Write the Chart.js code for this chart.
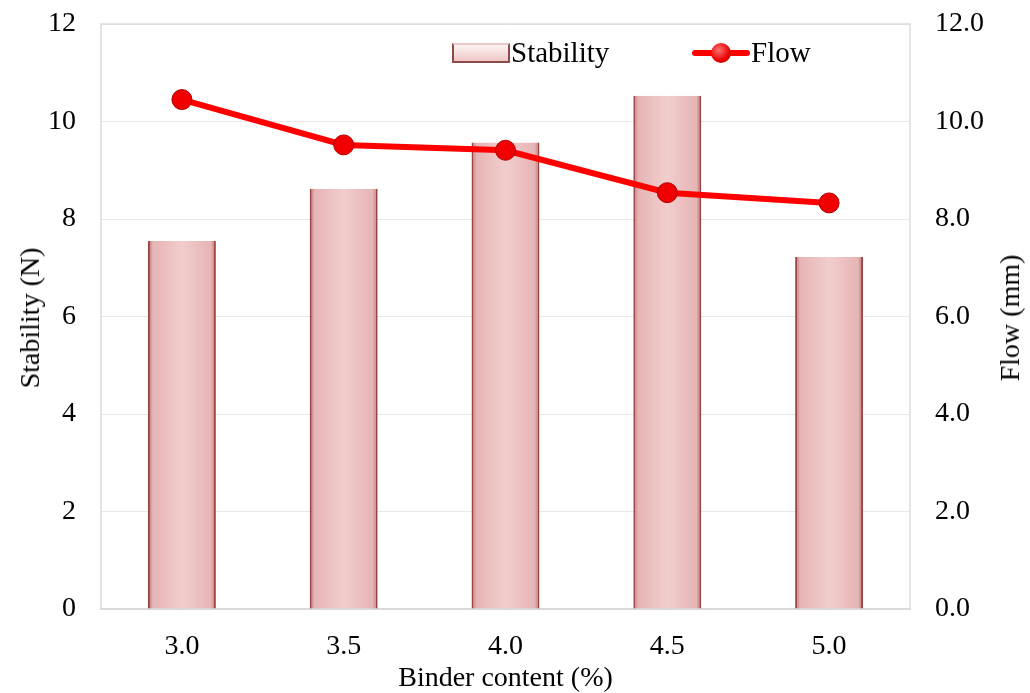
<!DOCTYPE html>
<html>
<head>
<meta charset="utf-8">
<script src="https://cdn.jsdelivr.net/npm/chart.js@4.4.1/dist/chart.umd.min.js"></script>
<style>
  body { margin: 0; background: #fff; }
  #wrap { position: relative; width: 1030px; height: 693px; }
  .legend { position: absolute; top: 36px; font-family: "Liberation Serif", serif; font-size: 29px; color: #000; display: flex; align-items: center; }
  .swatch-bar { width: 58px; height: 20px; background: linear-gradient(#fdf3f3, #f0c6c6); border: 2px solid #8f4a4a; border-top-color: #e8c8c8; box-sizing: border-box; margin-right: 1px; }
  .swatch-line { position: relative; width: 58px; height: 22px; margin-right: 1px; }
  .swatch-line::before { content: ""; position: absolute; left: 0; right: 0; top: 8px; height: 6px; background: #ff0000; border-radius: 3px; }
  .swatch-line::after { content: ""; position: absolute; left: 19px; top: 1px; width: 20px; height: 20px; border-radius: 50%; background: radial-gradient(circle at 40% 35%, #ff7070, #e80000 60%, #a00000); }
  .vtitle { position: absolute; top: 318px; transform: translate(-50%, -50%) rotate(-90deg); font-family: "Liberation Serif", serif; font-size: 28px; white-space: nowrap; color: #000; }
</style>
</head>
<body>
<div id="wrap">
  <canvas id="chart"></canvas>
  <div class="legend" style="left:452px;"><span class="swatch-bar"></span>Stability</div>
  <div class="legend" style="left:692px;"><span class="swatch-line"></span>Flow</div>
  <div class="vtitle" style="left:30px;">Stability (N)</div>
  <div class="vtitle" style="left:1010px;">Flow (mm)</div>
</div>
<script>
const binder = ['3.0', '3.5', '4.0', '4.5', '5.0'];
const stability = [7.55, 8.62, 9.57, 10.53, 7.22];
const flow = [10.45, 9.52, 9.41, 8.54, 8.33];

const serif = '"Liberation Serif", "Times New Roman", serif';
const barPct = 0.42;

// light frame round the plot area
const framePlugin = {
    id: 'frame',
    beforeDatasetsDraw(chart) {
        const a = chart.chartArea;
        const c = chart.ctx;
        c.save();
        c.strokeStyle = '#dcdcdc';
        c.lineWidth = 1.5;
        c.strokeRect(a.left, a.top, a.right - a.left, a.bottom - a.top);
        c.restore();
    }
};

// pink bar with darker edges, like the bevelled bars
function barFill(context) {
    const chart = context.chart;
    const xs = chart.scales.x;
    if (!xs || !chart.chartArea || context.dataIndex === undefined) return '#f0c8c8';
    const cx = xs.getPixelForValue(context.dataIndex);
    const w = (xs.width / binder.length) * barPct;
    const g = chart.ctx.createLinearGradient(cx - w / 2, 0, cx + w / 2, 0);
    g.addColorStop(0, '#b56a6a');
    g.addColorStop(0.07, '#e6b4b4');
    g.addColorStop(0.5, '#f2cdcd');
    g.addColorStop(0.93, '#e6b4b4');
    g.addColorStop(1, '#b56a6a');
    return g;
}

// drop the extra room chart.js keeps above/below the y labels
const noPad = s => { s.paddingTop = 0; s.paddingBottom = 0; };

const ctx = document.getElementById('chart').getContext('2d');

const chart = new Chart(ctx, {
    data: {
        labels: binder,
        datasets: [
            {
                type: 'line',
                label: 'Flow',
                data: flow,
                yAxisID: 'y1',
                borderColor: '#ff0000',
                borderWidth: 6,
                pointRadius: 10,
                pointHoverRadius: 10,
                pointBackgroundColor: '#f00000',
                pointBorderColor: '#b00000',
                pointBorderWidth: 1,
                tension: 0,
                order: 0
            },
            {
                type: 'bar',
                label: 'Stability',
                data: stability,
                yAxisID: 'y',
                backgroundColor: barFill,
                borderColor: '#9a4545',
                borderWidth: { left: 2, right: 2, top: 0, bottom: 0 },
                barPercentage: barPct,
                categoryPercentage: 1,
                order: 1
            }
        ]
    },
    plugins: [framePlugin],
    options: {
        responsive: true,
        maintainAspectRatio: false,
        animation: false,
        layout: { padding: { top: 24, right: 21, bottom: 0, left: 23 } },
        plugins: {
            legend: { display: false },
            tooltip: { enabled: false }
        },
        scales: {
            x: {
                grid: { display: false, drawTicks: false },
                border: { color: '#d0d0d0', width: 2 },
                ticks: { color: '#000', font: { family: serif, size: 28, lineHeight: 1 }, padding: 24 },
                title: { display: true, text: 'Binder content (%)', color: '#000', font: { family: serif, size: 28, lineHeight: 1 }, padding: { top: -20, bottom: 0 } }
            },
            y: {
                position: 'left',
                min: 0, max: 12,
                afterFit: noPad,
                ticks: { stepSize: 2, color: '#000', font: { family: serif, size: 28 }, padding: 25 },
                grid: { color: '#e8e8e8', drawTicks: false },
                border: { display: false }
            },
            y1: {
                position: 'right',
                min: 0, max: 12,
                afterFit: noPad,
                ticks: {
                    stepSize: 2, color: '#000', font: { family: serif, size: 28 }, padding: 25,
                    callback: v => v.toFixed(1)
                },
                grid: { display: false, drawTicks: false },
                border: { display: false }
            }
        }
    }
});
</script>
</body>
</html>
